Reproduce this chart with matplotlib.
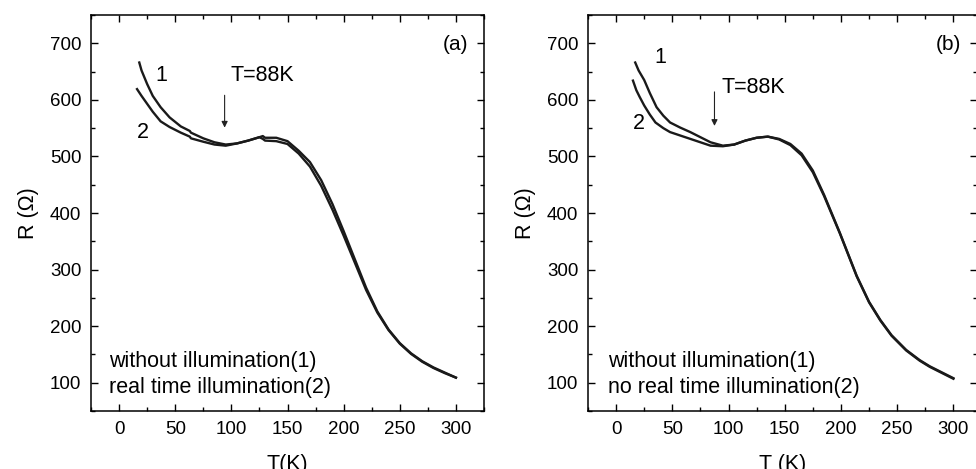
import numpy as np
import matplotlib
matplotlib.use('Agg')
import matplotlib.pyplot as plt
from matplotlib.ticker import MultipleLocator

plt.rcParams['font.family'] = ['Liberation Sans', 'DejaVu Sans']

# panel (a): values
Ta1 = [18, 20, 25, 30, 37, 45, 55, 63, 64, 75, 85, 95, 105, 115, 125, 128, 130, 140, 150, 160, 170,
       180, 190, 200, 210, 220, 230, 240, 250, 260, 270, 280, 290, 300]
Ra1 = [666, 652, 628, 607, 587, 569, 553, 545, 542, 532, 525, 521, 523, 528, 534, 536, 533, 533, 527,
       510, 490, 458, 416, 368, 318, 268, 226, 194, 170, 152, 138, 127, 118, 109]
Ta2 = [16, 20, 25, 30, 37, 45, 55, 63, 64, 75, 85, 95, 105, 115, 125, 128, 130, 140, 150, 160, 170,
       180, 190, 200, 210, 220, 230, 240, 250, 260, 270, 280, 290, 300]
Ra2 = [619, 607, 593, 579, 562, 552, 542, 535, 532, 526, 521, 519, 523, 528, 534, 531, 528, 527, 522,
       505, 482, 448, 406, 360, 312, 264, 224, 193, 169, 151, 137, 126, 117, 109]

# panel (b)
Tb1 = [17, 20, 25, 30, 36, 42, 48, 57, 66, 75, 84, 95, 105, 115, 125, 135, 145, 155, 165, 175,
       185, 199, 214, 225, 235, 245, 258, 270, 279, 290, 300]
Rb1 = [666, 652, 635, 612, 587, 572, 560, 551, 543, 534, 525, 519, 521, 528, 533, 535, 531, 522,
       505, 475, 432, 365, 289, 243, 211, 184, 158, 140, 129, 118, 108]
Tb2 = [15, 18, 21, 25, 30, 35, 42, 48, 57, 66, 75, 84, 95, 105, 115, 125, 135, 145, 155, 165, 175,
       185, 199, 214, 225, 235, 245, 258, 270, 279, 290, 300]
Rb2 = [634, 617, 605, 590, 574, 560, 550, 543, 537, 531, 525, 519, 518, 521, 528, 533, 535, 530,
       520, 502, 472, 430, 364, 288, 242, 210, 183, 157, 139, 128, 117, 107]

panels = [
    dict(curves=[(Ta1, Ra1), (Ta2, Ra2)], xlim=(-25, 325), xlabel='T(K)', tag='(a)', tagx=300,
         arrow_x=94, arrow=(613, 546), tlabel=(99, 643), n1=(38, 643), n2=(21, 543),
         text_x=-9, lines=['without illumination(1)', 'real time illumination(2)'],
         pos=[91 / 976, 58 / 469, 393 / 976, 396 / 469]),
    dict(curves=[(Tb1, Rb1), (Tb2, Rb2)], xlim=(-25, 321), xlabel='T (K)', tag='(b)', tagx=296,
         arrow_x=87.5, arrow=(619, 549), tlabel=(94, 621), n1=(39, 675), n2=(20.5, 558),
         text_x=-7, lines=['without illumination(1)', 'no real time illumination(2)'],
         pos=[588 / 976, 58 / 469, 389 / 976, 396 / 469]),
]

fig = plt.figure(figsize=(9.76, 4.69), dpi=100)

for p in panels:
    ax = fig.add_axes(p['pos'])
    for T, R in p['curves']:
        ax.plot(T, R, color='#1a1a1a', lw=1.7, solid_joinstyle='round')
    ax.set_xlim(*p['xlim'])
    ax.set_ylim(50, 750)
    ax.xaxis.set_major_locator(MultipleLocator(50))
    ax.xaxis.set_minor_locator(MultipleLocator(25))
    ax.yaxis.set_major_locator(MultipleLocator(100))
    ax.yaxis.set_minor_locator(MultipleLocator(50))
    ax.set_yticks([100, 200, 300, 400, 500, 600, 700])
    ax.tick_params(which='both', direction='in', top=True, right=True, labelsize=13.5, width=1)
    ax.tick_params(which='major', length=5, pad=7)
    ax.tick_params(which='minor', length=3)
    for s in ax.spines.values():
        s.set_linewidth(1.1)
    ax.set_xlabel(p['xlabel'], fontsize=15.5, labelpad=12)
    ax.set_ylabel('R (Ω)', fontsize=15.5, labelpad=8)

    ax.annotate('', xy=(p['arrow_x'], p['arrow'][1]), xytext=(p['arrow_x'], p['arrow'][0]),
                arrowprops=dict(arrowstyle='-|>', color='#222222', lw=0.8, mutation_scale=9))
    ax.text(*p['tlabel'], 'T=88K', fontsize=15.5, va='center', ha='left')
    ax.text(*p['n1'], '1', fontsize=15.5, va='center', ha='center')
    ax.text(*p['n2'], '2', fontsize=15.5, va='center', ha='center')
    ax.text(p['tagx'], 697, p['tag'], fontsize=15, va='center', ha='center')
    ax.text(p['text_x'], 137, p['lines'][0], fontsize=15.5, va='center', ha='left')
    ax.text(p['text_x'], 91, p['lines'][1], fontsize=15.5, va='center', ha='left')

fig.savefig('out.png', dpi=100)
